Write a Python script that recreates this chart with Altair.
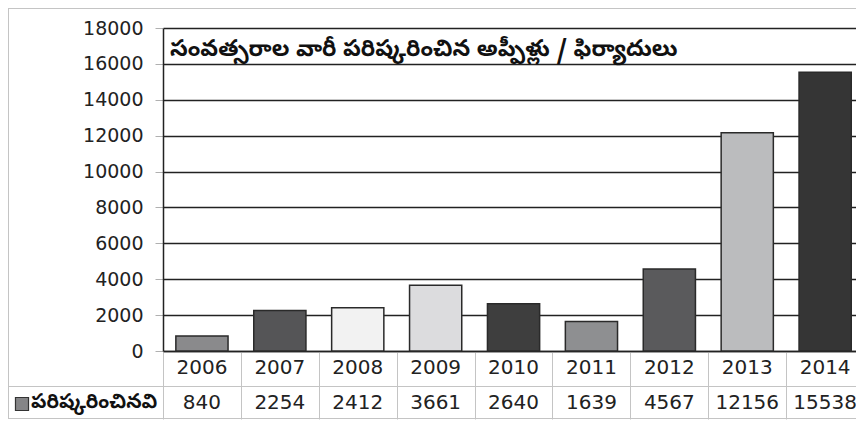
import altair as alt
import pandas as pd

# ---- data ----
years = ["2006", "2007", "2008", "2009", "2010", "2011", "2012", "2013", "2014"]
resolved = [840, 2254, 2412, 3661, 2640, 1639, 4567, 12156, 15538]
bar_colors = ["#8a8a8c", "#555557", "#f2f2f2", "#dcdcde", "#3e3e3e",
              "#8e8f91", "#5a5a5c", "#bbbcbe", "#353535"]
y_ticks = [0, 2000, 4000, 6000, 8000, 10000, 12000, 14000, 16000, 18000]
title_text = "సంవత్సరాల వారీ పరిష్కరించిన అప్పీళ్లు / ఫిర్యాదులు"
row_label = "పరిష్కరించినవి"
swatch_color = "#858587"

df = pd.DataFrame({"year": years, "value": resolved})

TEL = "Noto Sans Telugu, Noto Sans, sans-serif"
NUM = "DejaVu Sans"

W, H = 693, 323
STEP = 77.9  # table column width; the last column runs to the right edge

# band scale: outer padding pushed mostly to the right so the last column meets the edge
xscale = alt.Scale(domain=years, paddingInner=0.33, paddingOuter=0.113, align=0.73)
xaxis = alt.Axis(title=None, labels=False, domain=True, domainColor="#222", domainWidth=1.5,
                 ticks=True, tickColor="#c4c4c4", tickSize=68, tickWidth=1,
                 tickOffset=-STEP / 2, grid=False)
X = alt.X("year:N", scale=xscale, axis=xaxis, sort=years)

yaxis = alt.Axis(title=None, values=y_ticks, format="d", labelFont=NUM, labelFontSize=19,
                 labelColor="#222", labelPadding=12, tickSize=8, tickColor="#b0b0b0",
                 domain=True, domainColor="#222", domainWidth=1.5,
                 grid=True, gridColor="#222", gridWidth=1.3)

bars = alt.Chart(df).mark_bar(stroke="#2a2a2a", strokeWidth=1.5).encode(
    x=X,
    y=alt.Y("value:Q", scale=alt.Scale(domain=[0, 18000], nice=False), axis=yaxis),
    color=alt.Color("year:N", scale=alt.Scale(domain=years, range=bar_colors), legend=None),
)

year_text = alt.Chart(df).mark_text(font=NUM, fontSize=20, color="#222", baseline="middle").encode(
    x=X, y=alt.value(340), text="year:N"
)
value_text = alt.Chart(df).mark_text(font=NUM, fontSize=20, color="#222", baseline="middle").encode(
    x=X, y=alt.value(375), text="value:Q"
)

title = alt.Chart(pd.DataFrame({"t": [title_text]})).mark_text(
    font=TEL, fontSize=23, fontWeight="bold", color="#111", align="left", baseline="alphabetic"
).encode(x=alt.value(7), y=alt.value(28), text="t:N")

label = alt.Chart(pd.DataFrame({"t": [row_label]})).mark_text(
    font=TEL, fontSize=20, fontWeight="bold", color="#111", align="left", baseline="middle"
).encode(x=alt.value(-132), y=alt.value(374), text="t:N")

swatch = alt.Chart(pd.DataFrame({"t": [row_label]})).mark_square(
    size=170, fill=swatch_color, stroke="#333", strokeWidth=1.2, opacity=1
).encode(x=alt.value(-141), y=alt.value(376))

# table / frame lines
hline = alt.Chart(pd.DataFrame({"k": ["divider", "bottom", "top"],
                                "y": [358.5, 390.5, -19.5]})).mark_rule(
    color="#c4c4c4", strokeWidth=1
).encode(x=alt.value(-155), x2=alt.value(W), y=alt.Y("y:Q", scale=None))
vline = alt.Chart(pd.DataFrame({"k": ["left"]})).mark_rule(color="#c4c4c4", strokeWidth=1).encode(
    x=alt.value(-154.5), y=alt.value(-20), y2=alt.value(391)
)

chart = alt.layer(bars, hline, vline, year_text, value_text, title, label, swatch).properties(
    width=W, height=H,
    padding={"left": 155, "top": 20, "right": 0, "bottom": 69},
    autosize=alt.AutoSizeParams(type="none"),
).configure_view(stroke=None)

chart.save("out.html", embed_options={"renderer": "svg", "actions": False})
